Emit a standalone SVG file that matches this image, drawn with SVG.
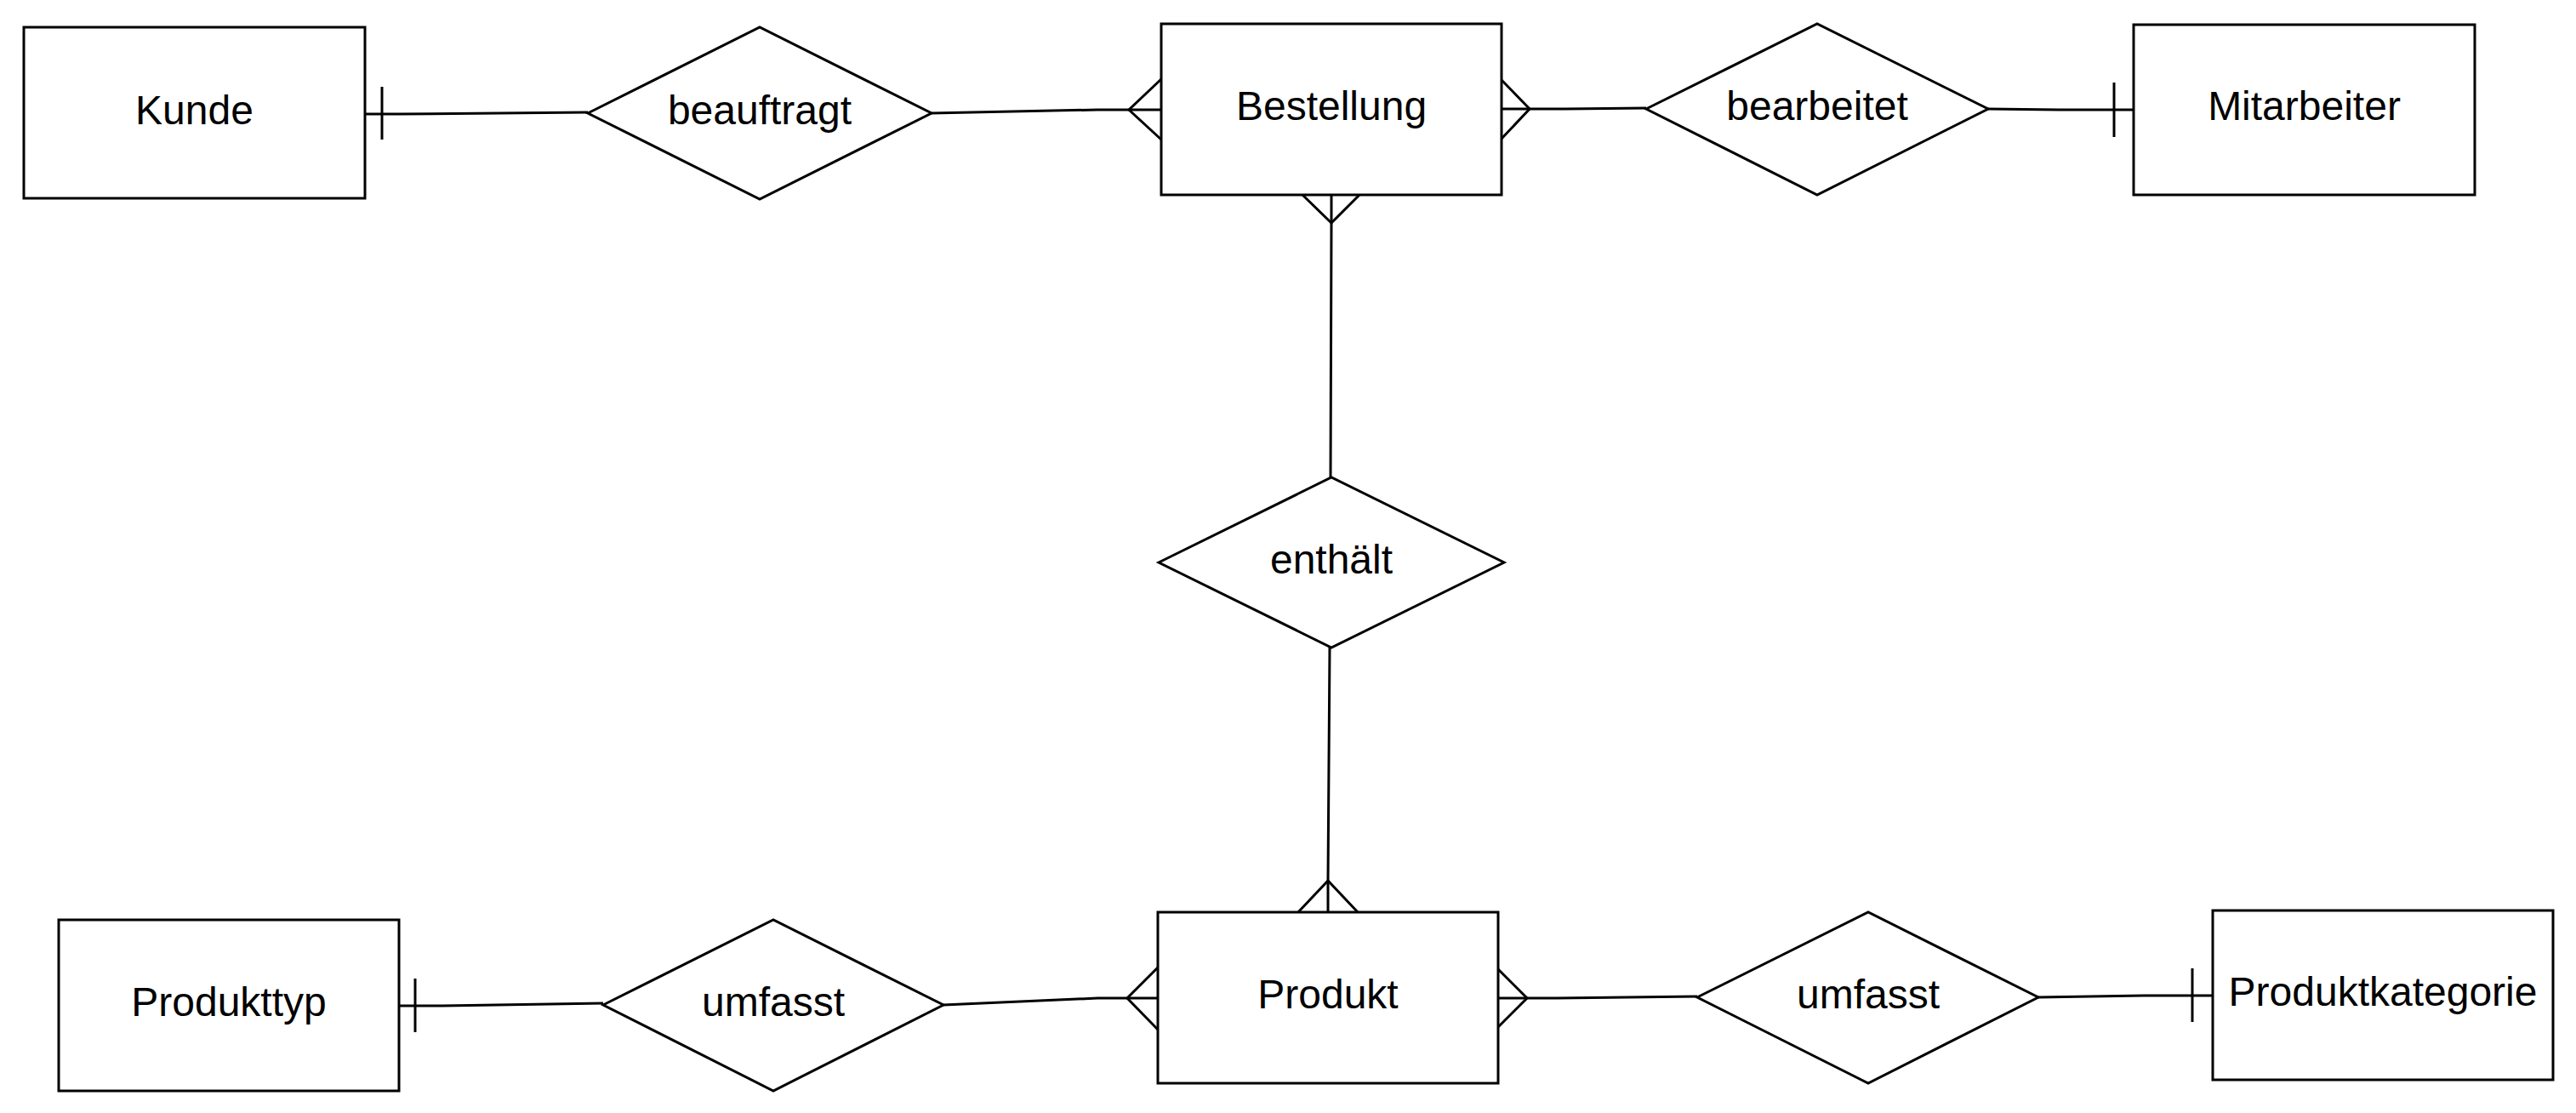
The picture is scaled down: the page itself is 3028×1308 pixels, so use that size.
<svg xmlns="http://www.w3.org/2000/svg" width="3028" height="1308" viewBox="0 0 3028 1308">
<style>
.ent{fill:#fff;stroke:#000;stroke-width:3}
.rel{fill:#fff;stroke:#000;stroke-width:3}
.lbl{font-family:"Liberation Sans",Arial,sans-serif;font-size:48px;fill:#000;text-anchor:middle}
.edge{fill:none;stroke:#000;stroke-width:3;stroke-linejoin:miter}
</style>
<rect width="3028" height="1308" fill="#fff"/>
<g id="connectors">
  <!-- Kunde - beauftragt -->
  <polyline class="edge" points="429,134 470,134 691,132"/>
  <line class="edge" x1="449" y1="102" x2="449" y2="164"/>
  <!-- beauftragt - Bestellung -->
  <polyline class="edge" points="1095,133 1290,129 1365,129"/>
  <polyline class="edge" points="1365,93 1327,129 1365,164"/>
  <!-- Bestellung - bearbeitet -->
  <polyline class="edge" points="1765,128 1840,128 1935,127"/>
  <polyline class="edge" points="1765,94 1798,128 1765,163"/>
  <!-- bearbeitet - Mitarbeiter -->
  <polyline class="edge" points="2337,128 2420,129 2508,129"/>
  <line class="edge" x1="2485" y1="97" x2="2485" y2="161"/>
  <!-- Bestellung - enthält -->
  <polyline class="edge" points="1565,229 1565,262 1564,561"/>
  <polyline class="edge" points="1531,229 1565,262 1598,229"/>
  <!-- enthält - Produkt -->
  <polyline class="edge" points="1563,761 1561,1035 1561,1072"/>
  <polyline class="edge" points="1526,1072 1561,1035 1596,1072"/>
  <!-- Produkttyp - umfasst -->
  <polyline class="edge" points="469,1182 520,1182 709,1179"/>
  <line class="edge" x1="488" y1="1150" x2="488" y2="1213"/>
  <!-- umfasst - Produkt -->
  <polyline class="edge" points="1109,1181 1290,1173 1361,1173"/>
  <polyline class="edge" points="1361,1137 1325,1173 1361,1210"/>
  <!-- Produkt - umfasst -->
  <polyline class="edge" points="1761,1173 1830,1173 1995,1171"/>
  <polyline class="edge" points="1761,1139 1795,1173 1761,1207"/>
  <!-- umfasst - Produktkategorie -->
  <polyline class="edge" points="2396,1172 2520,1170 2601,1170"/>
  <line class="edge" x1="2577" y1="1138" x2="2577" y2="1201"/>
</g>
<g id="kunde">
  <rect class="ent" x="28" y="32" width="401" height="201"/>
  <text class="lbl" x="228.5" y="146">Kunde</text>
</g>
<g id="beauftragt">
  <polygon class="rel" points="691,133 893,32 1095,133 893,234"/>
  <text class="lbl" x="893" y="146">beauftragt</text>
</g>
<g id="bestellung">
  <rect class="ent" x="1365" y="28" width="400" height="201"/>
  <text class="lbl" x="1565" y="141">Bestellung</text>
</g>
<g id="bearbeitet">
  <polygon class="rel" points="1935,128 2136,28 2337,128 2136,229"/>
  <text class="lbl" x="2136" y="141">bearbeitet</text>
</g>
<g id="mitarbeiter">
  <rect class="ent" x="2508" y="29" width="401" height="200"/>
  <text class="lbl" x="2708.5" y="141">Mitarbeiter</text>
</g>
<g id="enthaelt">
  <polygon class="rel" points="1362,661 1565,561 1768,661 1565,761"/>
  <text class="lbl" x="1565" y="674">enthält</text>
</g>
<g id="produkttyp">
  <rect class="ent" x="69" y="1081" width="400" height="201"/>
  <text class="lbl" x="269" y="1194">Produkttyp</text>
</g>
<g id="umfasst1">
  <polygon class="rel" points="709,1181 909,1081 1109,1181 909,1282"/>
  <text class="lbl" x="909" y="1194">umfasst</text>
</g>
<g id="produkt">
  <rect class="ent" x="1361" y="1072" width="400" height="201"/>
  <text class="lbl" x="1561" y="1185">Produkt</text>
</g>
<g id="umfasst2">
  <polygon class="rel" points="1995,1172 2196,1072 2396,1172 2196,1273"/>
  <text class="lbl" x="2196" y="1185">umfasst</text>
</g>
<g id="produktkategorie">
  <rect class="ent" x="2601" y="1070" width="400" height="199"/>
  <text class="lbl" x="2801" y="1182">Produktkategorie</text>
</g>
</svg>
